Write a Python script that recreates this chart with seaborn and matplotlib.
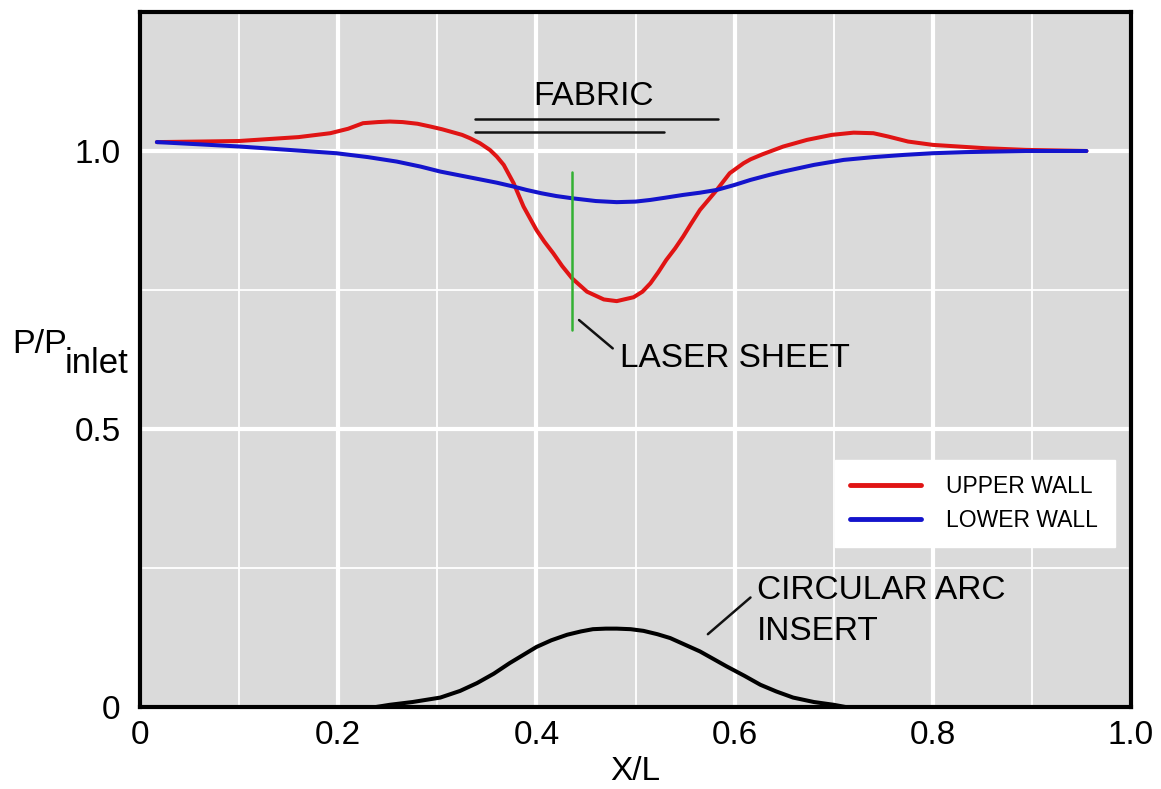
import matplotlib
matplotlib.use("Agg")
import matplotlib.pyplot as plt
import numpy as np
import pandas as pd
import seaborn as sns
from matplotlib.ticker import MultipleLocator

# ---------------- data ----------------
upper_x = [0.017, 0.06, 0.10, 0.16, 0.192, 0.21, 0.225, 0.24, 0.252, 0.265,
           0.28, 0.293, 0.305, 0.315, 0.325, 0.333, 0.343, 0.353, 0.360, 0.367,
           0.377, 0.387, 0.400, 0.408, 0.417, 0.426, 0.436, 0.451, 0.468, 0.481,
           0.498, 0.507, 0.515, 0.523, 0.531, 0.540, 0.548, 0.556, 0.565, 0.574,
           0.582, 0.595, 0.609, 0.616, 0.628, 0.649, 0.673, 0.698, 0.72, 0.74,
           0.755, 0.775, 0.80, 0.853, 0.894, 0.955]
upper_y = [1.016, 1.017, 1.018, 1.025, 1.032, 1.040, 1.050, 1.052, 1.053, 1.052,
           1.049, 1.044, 1.039, 1.034, 1.029, 1.023, 1.014, 1.002, 0.990, 0.975,
           0.942, 0.900, 0.858, 0.837, 0.816, 0.793, 0.771, 0.747, 0.733, 0.730,
           0.737, 0.747, 0.762, 0.782, 0.804, 0.825, 0.846, 0.869, 0.894, 0.913,
           0.930, 0.960, 0.978, 0.985, 0.994, 1.008, 1.020, 1.029, 1.033, 1.032,
           1.026, 1.017, 1.011, 1.005, 1.002, 1.000]

lower_x = [0.017, 0.06, 0.101, 0.15, 0.198, 0.23, 0.259, 0.283, 0.303, 0.323,
           0.343, 0.36, 0.377, 0.390, 0.405, 0.420, 0.436, 0.46, 0.481, 0.50,
           0.515, 0.53, 0.548, 0.565, 0.582, 0.60, 0.616, 0.635, 0.649, 0.68,
           0.71, 0.74, 0.771, 0.80, 0.833, 0.894, 0.955]
lower_y = [1.016, 1.012, 1.008, 1.002, 0.996, 0.989, 0.981, 0.972, 0.963, 0.956,
           0.949, 0.943, 0.936, 0.930, 0.924, 0.919, 0.915, 0.910, 0.908, 0.909,
           0.912, 0.916, 0.921, 0.925, 0.930, 0.939, 0.948, 0.957, 0.963, 0.975,
           0.984, 0.989, 0.993, 0.996, 0.998, 1.000, 1.000]

insert_x = [0.238, 0.252, 0.275, 0.303, 0.323, 0.340, 0.357, 0.373, 0.387, 0.400,
            0.415, 0.431, 0.445, 0.457, 0.470, 0.481, 0.495, 0.508, 0.522, 0.535,
            0.550, 0.565, 0.578, 0.592, 0.610, 0.626, 0.642, 0.659, 0.680, 0.700, 0.712]
insert_y = [0.0, 0.004, 0.009, 0.017, 0.029, 0.043, 0.060, 0.079, 0.094, 0.108,
            0.120, 0.130, 0.136, 0.140, 0.141, 0.141, 0.140, 0.137, 0.131, 0.124,
            0.112, 0.100, 0.087, 0.073, 0.056, 0.040, 0.028, 0.017, 0.009, 0.004, 0.0]

series_labels = ["UPPER WALL", "LOWER WALL"]

x_ticks = [0, 0.2, 0.4, 0.6, 0.8, 1.0]
x_tick_labels = ["0", "0.2", "0.4", "0.6", "0.8", "1.0"]
y_ticks = [0, 0.5, 1.0]
y_tick_labels = ["0", "0.5", "1.0"]

# annotation marks
fabric_upper_x = [0.338, 0.583]
fabric_upper_y = [1.058, 1.058]
fabric_lower_x = [0.338, 0.529]
fabric_lower_y = [1.034, 1.034]
laser_x = [0.436, 0.436]
laser_y = [0.678, 0.962]
laser_leader_x = [0.443, 0.477]
laser_leader_y = [0.696, 0.645]
arc_leader_x = [0.573, 0.616]
arc_leader_y = [0.131, 0.197]

# ---------------- style ----------------
sns.set_theme(style="darkgrid")
plt.rcParams["font.family"] = ["Liberation Sans", "DejaVu Sans"]
plt.rcParams["text.color"] = "black"
plt.rcParams["axes.labelcolor"] = "black"
plt.rcParams["xtick.color"] = "black"
plt.rcParams["ytick.color"] = "black"

fig = plt.figure(figsize=(11.61, 7.89), dpi=100)
fig.patch.set_facecolor("white")
ax = fig.add_axes([0.1206, 0.1039, 0.8536, 0.8809])
ax.set_facecolor("#dadada")
ax.set_axisbelow(True)

df = pd.DataFrame({
    "x": upper_x + lower_x,
    "y": upper_y + lower_y,
    "wall": [series_labels[0]] * len(upper_x) + [series_labels[1]] * len(lower_x),
})
sns.lineplot(data=df, x="x", y="y", hue="wall", hue_order=series_labels,
             palette={series_labels[0]: "#e01414", series_labels[1]: "#1414cc"},
             linewidth=2.9, sort=False, estimator=None, ax=ax)
sns.lineplot(x=insert_x, y=insert_y, color="black", linewidth=2.9,
             sort=False, estimator=None, legend=False, ax=ax)

# annotation lines
ax.plot(fabric_upper_x, fabric_upper_y, color="#111111", lw=1.8)
ax.plot(fabric_lower_x, fabric_lower_y, color="#111111", lw=1.8)
ax.plot(laser_x, laser_y, color="#33b033", lw=1.8)
ax.plot(laser_leader_x, laser_leader_y, color="#111111", lw=1.8)
ax.plot(arc_leader_x, arc_leader_y, color="#111111", lw=1.8)

ax.text(0.458, 1.083, "FABRIC", ha="center", va="baseline", fontsize=24)
ax.text(0.4843, 0.6115, "LASER SHEET", ha="left", va="baseline", fontsize=24)
ax.text(0.6223, 0.1942, "CIRCULAR ARC", ha="left", va="baseline", fontsize=24)
ax.text(0.6223, 0.1205, "INSERT", ha="left", va="baseline", fontsize=24)

# axes
ax.set_xlim(0, 1.0)
ax.set_ylim(0, 1.25)
ax.set_xticks(x_ticks)
ax.set_xticklabels(x_tick_labels, fontsize=24)
ax.set_yticks(y_ticks)
ax.set_yticklabels(y_tick_labels, fontsize=24)
ax.xaxis.set_minor_locator(MultipleLocator(0.1))
ax.yaxis.set_minor_locator(MultipleLocator(0.25))
ax.tick_params(axis="both", which="both", length=0)
ax.tick_params(axis="x", which="major", pad=9)
ax.tick_params(axis="y", which="major", pad=14)
ax.grid(which="major", color="white", linewidth=3.0)
ax.grid(which="minor", color="white", linewidth=1.3)

ax.set_xlabel("X/L", fontsize=24, labelpad=4)
ax.set_ylabel("")

for s in ax.spines.values():
    s.set_visible(True)
    s.set_color("black")
    s.set_linewidth(3.0)

# y-axis label with large subscript
fig.text(0.0103, 0.5526, "P/P", fontsize=24.5, ha="left", va="baseline")
fig.text(0.0560, 0.5272, "inlet", fontsize=25, ha="left", va="baseline")

leg = ax.legend(loc="lower left", bbox_to_anchor=(0.701, 0.230, 0.283, 0.128),
                mode="expand", frameon=True, facecolor="white", edgecolor="white",
                fancybox=False, framealpha=1.0, fontsize=16.5, title=None,
                handlelength=3.1, handletextpad=1.1, borderpad=0.65,
                labelspacing=0.5, borderaxespad=0)
for line in leg.get_lines():
    line.set_linewidth(3.5)

fig.savefig("out.png", dpi=100)
